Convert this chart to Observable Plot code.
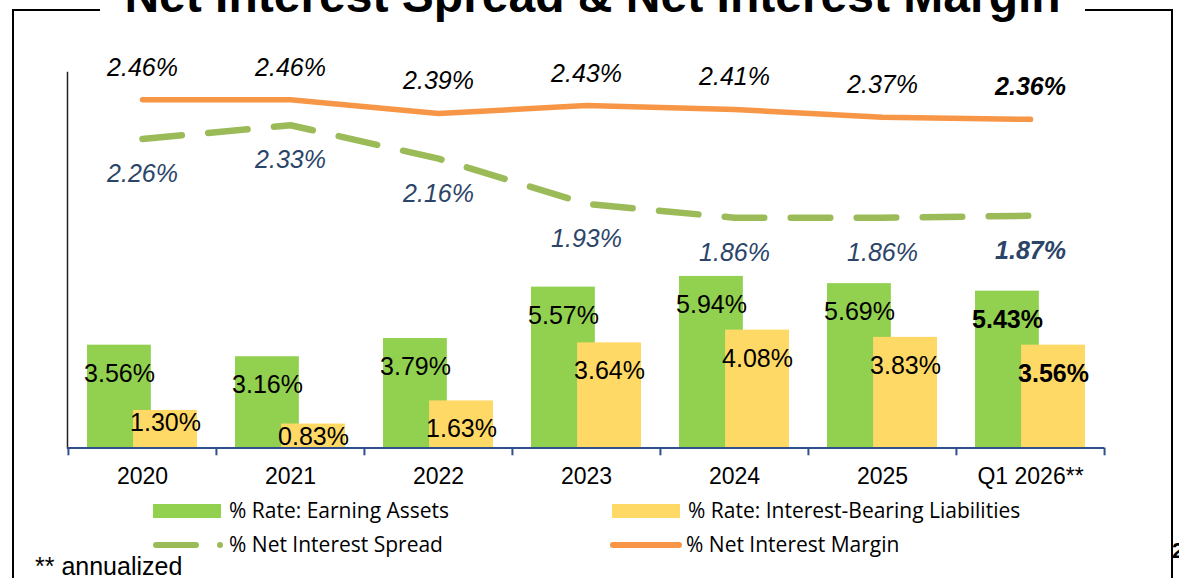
<!DOCTYPE html>
<html>
<head>
<meta charset="utf-8">
<script src="https://cdn.jsdelivr.net/npm/d3@7"></script>
<script src="https://cdn.jsdelivr.net/npm/@observablehq/plot@0.6"></script>
<style>
  html, body { margin: 0; padding: 0; background: #fff; }
  #root { position: relative; width: 1179px; height: 578px; overflow: hidden; background: #fff; font-family: "Liberation Sans", Arial, sans-serif; }
  #frame { position: absolute; left: 12px; top: 9px; width: 1157px; height: 700px; border: 2px solid #000; }
  #title { position: absolute; left: 100px; top: -28px; width: 985px; height: 48px; line-height: 48px; background: #fff; text-align: center; font-weight: bold; font-size: 48px; color: #000; white-space: nowrap; }
  .plot { position: absolute; left: 0; top: 0; }
  .leg { position: absolute; font-family: "Open Sans", Lato, sans-serif; font-size: 21px; color: #000; white-space: nowrap; line-height: 22px; }
  .sw { position: absolute; }
  #foot { position: absolute; left: 35px; top: 553px; font-size: 25px; line-height: 26px; color: #000; white-space: nowrap; }
  #page { position: absolute; left: 1172px; top: 538px; font-size: 22px; font-weight: bold; line-height: 26px; color: #000; }
</style>
</head>
<body>
<div id="root">
  <div id="frame"></div>
  <div id="title">Net Interest Spread &amp; Net Interest Margin</div>
  <div id="bars" class="plot"></div>
  <div id="lines" class="plot"></div>
  <div id="legend"></div>
  <div id="foot">** annualized</div>
  <div id="page">2</div>
</div>
<script>
// ---- data ----
const categories = ["2020", "2021", "2022", "2023", "2024", "2025", "Q1 2026**"];
const earningAssets = [3.56, 3.16, 3.79, 5.57, 5.94, 5.69, 5.43];
const interestBearing = [1.30, 0.83, 1.63, 3.64, 4.08, 3.83, 3.56];
const netSpread = [2.26, 2.33, 2.16, 1.93, 1.86, 1.86, 1.87];
const netMargin = [2.46, 2.46, 2.39, 2.43, 2.41, 2.37, 2.36];
const seriesNames = ["% Rate: Earning Assets", "% Rate: Interest-Bearing Liabilities", "% Net Interest Spread", "% Net Interest Margin"];
const highlight = "Q1 2026**";

const rows = categories.map((c, i) => ({
  cat: c, assets: earningAssets[i], liab: interestBearing[i], spread: netSpread[i], margin: netMargin[i]
}));
const pct = v => v.toFixed(2) + "%";
const FONT = "Liberation Sans, Arial, sans-serif";
const W = 1179, H = 500;
const M = {marginLeft: 67, marginRight: 75, marginTop: 72, marginBottom: 52.5};
const bw = (W - M.marginLeft - M.marginRight) / categories.length;

const GREEN = "#92D050", YELLOW = "#FFD966", ORANGE = "#F79646", SPREAD = "#9BBB59", NAVY = "#2B4468", AXIS = "#2F4E8C";

const bars = Plot.plot({
  width: W, height: H, ...M,
  style: {background: "transparent", overflow: "visible"},
  x: {type: "band", domain: categories, padding: 0, axis: null},
  y: {domain: [0, 13], axis: null},
  marks: [
    Plot.barY(rows, {x: "cat", y: "assets", fill: GREEN, insetLeft: 19, insetRight: bw - 19 - 64}),
    Plot.barY(rows, {x: "cat", y: "liab", fill: YELLOW, insetLeft: bw - 19 - 64, insetRight: 19}),
    Plot.text(rows, {filter: d => d.cat !== highlight, x: "cat", y: "assets", dx: -23, dy: 28.5, text: d => pct(d.assets), fontSize: 25, fontFamily: FONT, fill: "#000"}),
    Plot.text(rows, {filter: d => d.cat === highlight, x: "cat", y: "assets", dx: -23, dy: 28.5, text: d => pct(d.assets), fontSize: 25, fontWeight: "bold", fontFamily: FONT, fill: "#000"}),
    Plot.text(rows, {filter: d => d.cat !== highlight && d.liab >= 1.5, x: "cat", y: "liab", dx: 23, dy: 28.5, text: d => pct(d.liab), fontSize: 25, fontFamily: FONT, fill: "#000"}),
    Plot.text(rows, {filter: d => d.cat !== highlight && d.liab < 1.5, x: "cat", y: "liab", dx: 23, dy: 13, text: d => pct(d.liab), fontSize: 25, fontFamily: FONT, fill: "#000"}),
    Plot.text(rows, {filter: d => d.cat === highlight, x: "cat", y: "liab", dx: 23, dy: 28.5, text: d => pct(d.liab), fontSize: 25, fontWeight: "bold", fontFamily: FONT, fill: "#000"}),
    Plot.frame({anchor: "left", stroke: "#222", strokeWidth: 1.5}),
    Plot.ruleY([0], {stroke: AXIS, strokeWidth: 2}),
    Plot.ruleX(categories, {x: d => d, dx: -bw / 2, y1: 0, y2: -0.27, stroke: AXIS, strokeWidth: 2}),
    Plot.ruleX(categories.slice(-1), {x: d => d, dx: bw / 2, y1: 0, y2: -0.27, stroke: AXIS, strokeWidth: 2}),
    Plot.text(categories, {x: d => d, y: 0, dy: 29, text: d => d, fontSize: 23, fontFamily: FONT, fill: "#000"})
  ]
});
document.getElementById("bars").appendChild(bars);

const lines = Plot.plot({
  width: W, height: H, ...M,
  style: {background: "transparent", overflow: "visible"},
  x: {type: "band", domain: categories, padding: 0, axis: null},
  y: {domain: [0.69, 2.598], axis: null},
  marks: [
    Plot.lineY(rows, {x: "cat", y: "spread", stroke: SPREAD, strokeWidth: 6.5, strokeDasharray: "39.5,26.5", strokeLinecap: "round", strokeLinejoin: "round"}),
    Plot.lineY(rows, {x: "cat", y: "margin", stroke: ORANGE, strokeWidth: 5.5, strokeLinecap: "round", strokeLinejoin: "round"}),
    Plot.text(rows, {filter: d => d.cat !== highlight, x: "cat", y: "margin", dy: -32, text: d => pct(d.margin), fontSize: 25, fontStyle: "italic", fontFamily: FONT, fill: "#000"}),
    Plot.text(rows, {filter: d => d.cat === highlight, x: "cat", y: "margin", dy: -32, text: d => pct(d.margin), fontSize: 25, fontStyle: "italic", fontWeight: "bold", fontFamily: FONT, fill: "#000"}),
    Plot.text(rows, {filter: d => d.cat !== highlight, x: "cat", y: "spread", dy: 35, text: d => pct(d.spread), fontSize: 25, fontStyle: "italic", fontFamily: FONT, fill: NAVY}),
    Plot.text(rows, {filter: d => d.cat === highlight, x: "cat", y: "spread", dy: 35, text: d => pct(d.spread), fontSize: 25, fontStyle: "italic", fontWeight: "bold", fontFamily: FONT, fill: NAVY})
  ]
});
document.getElementById("lines").appendChild(lines);

// ---- legend ----
const legend = document.getElementById("legend");
const legItems = [
  {name: seriesNames[0], left: 153, top: 511, kind: "rect", color: GREEN},
  {name: seriesNames[1], left: 612, top: 511, kind: "rect", color: YELLOW},
  {name: seriesNames[2], left: 153, top: 545, kind: "dash", color: SPREAD},
  {name: seriesNames[3], left: 610, top: 545, kind: "line", color: ORANGE}
];
for (const it of legItems) {
  const ns = "http://www.w3.org/2000/svg";
  const svg = document.createElementNS(ns, "svg");
  svg.setAttribute("class", "sw");
  svg.setAttribute("width", 76); svg.setAttribute("height", 20);
  svg.style.left = it.left + "px"; svg.style.top = (it.top - 10) + "px";
  if (it.kind === "rect") {
    const r = document.createElementNS(ns, "rect");
    r.setAttribute("x", 0); r.setAttribute("y", 3); r.setAttribute("width", 68); r.setAttribute("height", 14);
    r.setAttribute("fill", it.color); svg.appendChild(r);
  } else if (it.kind === "dash") {
    const l = document.createElementNS(ns, "line");
    l.setAttribute("x1", 3); l.setAttribute("x2", 43); l.setAttribute("y1", 10); l.setAttribute("y2", 10);
    l.setAttribute("stroke", it.color); l.setAttribute("stroke-width", 6); l.setAttribute("stroke-linecap", "round");
    svg.appendChild(l);
    const c = document.createElementNS(ns, "circle");
    c.setAttribute("cx", 67); c.setAttribute("cy", 10); c.setAttribute("r", 3); c.setAttribute("fill", it.color);
    svg.appendChild(c);
  } else {
    const l = document.createElementNS(ns, "line");
    l.setAttribute("x1", 3); l.setAttribute("x2", 69); l.setAttribute("y1", 10); l.setAttribute("y2", 10);
    l.setAttribute("stroke", it.color); l.setAttribute("stroke-width", 6); l.setAttribute("stroke-linecap", "round");
    svg.appendChild(l);
  }
  legend.appendChild(svg);
  const t = document.createElement("div");
  t.className = "leg";
  t.textContent = it.name;
  t.style.left = (it.left + 76) + "px";
  t.style.top = (it.top - 12) + "px";
  legend.appendChild(t);
}
</script>
</body>
</html>
